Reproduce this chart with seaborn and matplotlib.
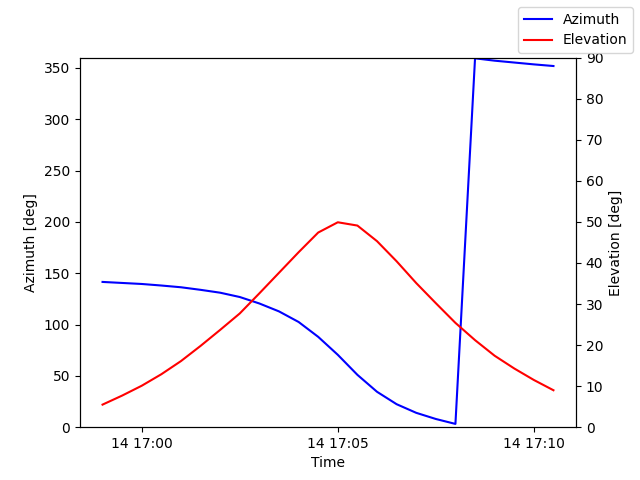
import matplotlib
matplotlib.use("Agg")
import matplotlib.pyplot as plt
import seaborn as sns
import pandas as pd
import numpy as np

times = pd.date_range("2023-03-14 16:59:00", "2023-03-14 17:10:30", freq="30s")
azimuth = [141.5, 140.5, 139.5, 138.0, 136.3, 133.8, 131.0, 126.8, 120.5, 112.8,
           102.5, 88.0, 70.5, 51.0, 34.5, 22.4, 14.0, 8.0, 3.2,
           359.3, 357.0, 355.2, 353.4, 351.8]
elevation = [5.5, 7.7, 10.1, 12.9, 16.1, 19.8, 23.7, 27.7, 32.6, 37.6,
             42.6, 47.4, 49.9, 49.1, 45.3, 40.4, 35.1, 30.2, 25.4, 21.2,
             17.4, 14.3, 11.5, 9.0]

df = pd.DataFrame({"Time": times.to_pydatetime(), "Azimuth": azimuth, "Elevation": elevation})

fig, ax = plt.subplots(figsize=(6.4, 4.8), dpi=100)
sns.lineplot(data=df, x="Time", y="Azimuth", ax=ax, color="blue", label="Azimuth", legend=False)
ax2 = ax.twinx()
sns.lineplot(data=df, x="Time", y="Elevation", ax=ax2, color="red", label="Elevation", legend=False)

ax.set_ylim(0, 360)
ax2.set_ylim(0, 90)
ax.set_xlabel("Time")
ax.set_ylabel("Azimuth [deg]")
ax2.set_ylabel("Elevation [deg]")

import matplotlib.dates as mdates
loc = mdates.MinuteLocator(byminute=[0, 5, 10, 15, 20, 25, 30, 35, 40, 45, 50, 55])
ax.xaxis.set_major_locator(loc)
ax.xaxis.set_major_formatter(mdates.DateFormatter("%d %H:%M"))

h1, l1 = ax.get_legend_handles_labels()
h2, l2 = ax2.get_legend_handles_labels()
fig.legend(h1 + h2, l1 + l2, loc="upper right")

fig.savefig("out.png", dpi=100)
